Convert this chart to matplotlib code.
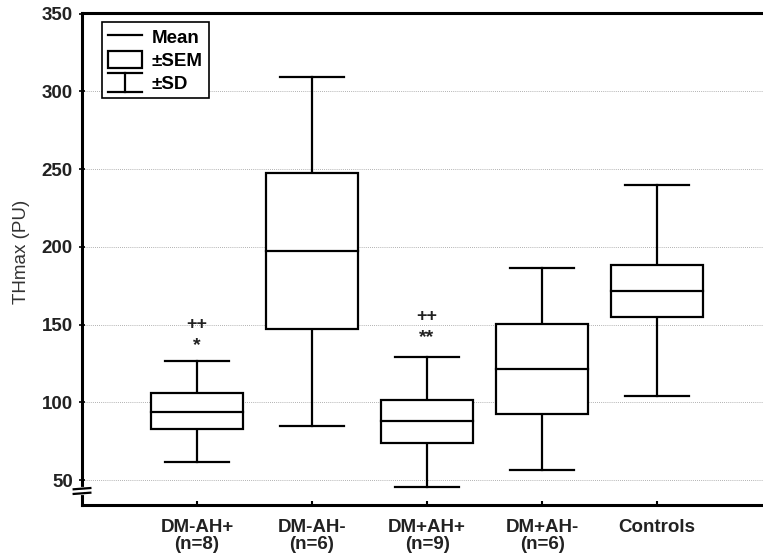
import matplotlib.pyplot as plt
from matplotlib.patches import Rectangle
from matplotlib.lines import Line2D
from matplotlib.legend_handler import HandlerBase

plt.rcParams['font.family'] = ['Liberation Sans', 'DejaVu Sans']

groups = ['DM-AH+\n(n=8)', 'DM-AH-\n(n=6)', 'DM+AH+\n(n=9)', 'DM+AH-\n(n=6)', 'Controls']
mean = [94, 197.4, 88, 121.5, 171.5]
sem_lo = [82.6, 147.2, 74, 92.7, 154.7]
sem_hi = [105.8, 247.4, 101.5, 150.4, 188.5]
sd_lo = [61.8, 85, 45.7, 56.4, 103.9]
sd_hi = [126.5, 309.6, 129.2, 186.5, 239.7]
marks = {0: ('++', '*'), 2: ('++', '**')}
mark_y = {0: (150, 136.5), 2: (155.5, 142)}

lw = 1.6
box_w = 0.8
cap_w = 0.56
fs = 13.5


class HandlerSD(HandlerBase):
    # T-shaped whisker symbol for the legend
    def create_artists(self, legend, orig_handle, xd, yd, width, height, fontsize, trans):
        x0, y0 = -xd, -yd
        cx = x0 + width / 2
        top, bot = y0 + height * 1.05, y0 - height * 0.05
        arts = [
            Line2D([x0, x0 + width], [top, top]),
            Line2D([cx, cx], [bot, top]),
            Line2D([x0, x0 + width], [bot, bot]),
        ]
        for a in arts:
            a.set_color('black')
            a.set_linewidth(lw)
            a.set_transform(trans)
        return arts


class SDHandle:
    pass


fig = plt.figure(figsize=(7.63, 5.57), dpi=100)
ax = fig.add_axes([0.1075, 0.0934, 0.912, 0.8833])

for i in range(len(groups)):
    x = i + 1
    ax.plot([x, x], [sd_lo[i], sem_lo[i]], color='black', lw=lw, zorder=3)
    ax.plot([x, x], [sem_hi[i], sd_hi[i]], color='black', lw=lw, zorder=3)
    ax.plot([x - cap_w / 2, x + cap_w / 2], [sd_lo[i]] * 2, color='black', lw=lw, zorder=3)
    ax.plot([x - cap_w / 2, x + cap_w / 2], [sd_hi[i]] * 2, color='black', lw=lw, zorder=3)
    ax.add_patch(Rectangle((x - box_w / 2, sem_lo[i]), box_w, sem_hi[i] - sem_lo[i],
                           facecolor='white', edgecolor='black', lw=lw, zorder=3))
    ax.plot([x - box_w / 2, x + box_w / 2], [mean[i]] * 2, color='black', lw=lw, zorder=4)

for i, (m1, m2) in marks.items():
    y1, y2 = mark_y[i]
    ax.text(i + 1, y1, m1, ha='center', va='center', fontsize=13, fontweight='bold',
            color='#222222')
    ax.text(i + 1, y2, m2, ha='center', va='center', fontsize=14, fontweight='bold',
            color='#222222')

ax.set_xlim(0, 6.05)
ax.set_ylim(34, 350.5)
ax.set_xticks(range(1, len(groups) + 1))
ax.set_xticklabels(groups, fontsize=fs, fontweight='bold', color='#222222',
                   linespacing=1.0)
ax.set_yticks(range(50, 351, 50))
ax.set_yticklabels([str(v) for v in range(50, 351, 50)], fontsize=fs,
                   fontweight='bold', color='#222222')
ax.tick_params(axis='x', direction='in', length=3, width=1.5, pad=10)
ax.tick_params(axis='y', direction='inout', length=5, width=1.2, pad=4)
ax.set_ylabel('THmax (PU)', fontsize=fs, color='#333333')
ax.yaxis.set_label_coords(-0.075, 0.514)
ax.grid(axis='y', linestyle=(0, (1, 1.5)), color='#999999', lw=0.6, zorder=0)

for s in ['left', 'bottom', 'top']:
    ax.spines[s].set_linewidth(2.2)
ax.spines['right'].set_visible(False)

# axis break on the y axis just below 50
ax.plot([0, 0], [41.5, 44.5], color='white', lw=3, transform=ax.get_yaxis_transform(),
        clip_on=False, zorder=5)
for yb in (41.5, 44.5):
    ax.plot([-0.012, 0.012], [yb - 0.4, yb + 0.4], color='black', lw=1.6,
            transform=ax.get_yaxis_transform(), clip_on=False, zorder=6)

handles = [Line2D([], [], color='black', lw=lw),
           Rectangle((0, 0), 1, 1, facecolor='white', edgecolor='black', lw=lw),
           SDHandle()]
leg = ax.legend(handles, ['Mean', '\u00b1SEM', '\u00b1SD'],
                handler_map={SDHandle: HandlerSD()},
                loc='upper left', bbox_to_anchor=(0.029, 0.981),
                prop={'size': fs, 'weight': 'bold'}, fancybox=False,
                edgecolor='black', framealpha=1, borderpad=0.3,
                handlelength=1.8, handleheight=1.05, handletextpad=0.55,
                labelspacing=0.2, borderaxespad=0)
leg.get_frame().set_linewidth(1.2)
leg.set_zorder(10)

fig.savefig('out.png', dpi=100)
